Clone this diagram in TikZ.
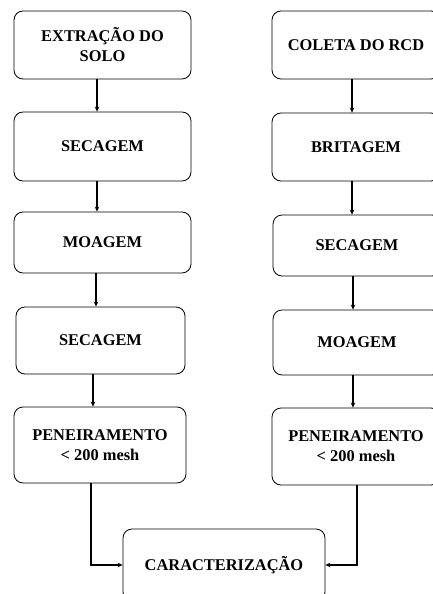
\documentclass[tikz,border=0pt]{standalone}
\usepackage{fontspec}
\setmainfont{Liberation Serif}
\usetikzlibrary{arrows.meta}

\begin{document}
\begin{tikzpicture}[x=1pt,y=-1pt,
    etapa/.style={draw, rounded corners=9pt, line width=0.8pt, align=center,
      font=\bfseries\fontsize{16.4}{20}\selectfont, inner sep=0pt},
    flow/.style={line width=1.3pt, -{Stealth[length=5pt,width=4.5pt]}}]
      \useasboundingbox (0,0) rectangle (432,594);
      % coluna do solo
      \node [etapa, minimum width=177, minimum height=68] (s1) at (102.5,45) {EXTRAÇÃO DO\\SOLO};
      \node [etapa, minimum width=177, minimum height=69] (s2) at (102.5,146.5) {SECAGEM};
      \node [etapa, minimum width=177, minimum height=61] (s3) at (102.5,242.5) {MOAGEM};
      \node [etapa, minimum width=169, minimum height=67] (s4) at (100.5,340.5) {SECAGEM};
      \node [etapa, minimum width=172, minimum height=76] (s5) at (100,445) {PENEIRAMENTO\\< 200 mesh};
      % coluna do RCD
      \node [etapa, minimum width=168, minimum height=68] (r1) at (356,45) {COLETA DO RCD};
      \node [etapa, minimum width=168, minimum height=68] (r2) at (356,147) {BRITAGEM};
      \node [etapa, minimum width=168, minimum height=61] (r3) at (357,245.5) {SECAGEM};
      \node [etapa, minimum width=168, minimum height=65] (r4) at (357,342.5) {MOAGEM};
      \node [etapa, minimum width=168, minimum height=77] (r5) at (356,446.5) {PENEIRAMENTO\\< 200 mesh};
      % caracterizacao
      \node [etapa, minimum width=202, minimum height=72] (c) at (224,565) {CARACTERIZAÇÃO};
      % setas
      \draw [flow] ([xshift=-5.5pt]s1.south) -- ([xshift=-5.5pt]s1.south |- s2.north);
      \draw [flow] ([xshift=-5.5pt]s2.south) -- ([xshift=-5.5pt]s2.south |- s3.north);
      \draw [flow] ([xshift=-6.5pt]s3.south) -- ([xshift=-6.5pt]s3.south |- s4.north);
      \draw [flow] ([xshift=-7.5pt]s4.south) -- ([xshift=-7.5pt]s4.south |- s5.north);
      \draw [flow] ([xshift=-4pt]r1.south) -- ([xshift=-4pt]r1.south |- r2.north);
      \draw [flow] ([xshift=-4pt]r2.south) -- ([xshift=-4pt]r2.south |- r3.north);
      \draw [flow] ([xshift=-4pt]r3.south) -- ([xshift=-4pt]r3.south |- r4.north);
      \draw [flow] ([xshift=-4pt]r4.south) -- ([xshift=-4pt]r4.south |- r5.north);
      \draw [flow] ([xshift=-9pt]s5.south) |- (c.west);
      \draw [flow] ([xshift=1pt]r5.south) |- (c.east);
\end{tikzpicture}
\end{document}
